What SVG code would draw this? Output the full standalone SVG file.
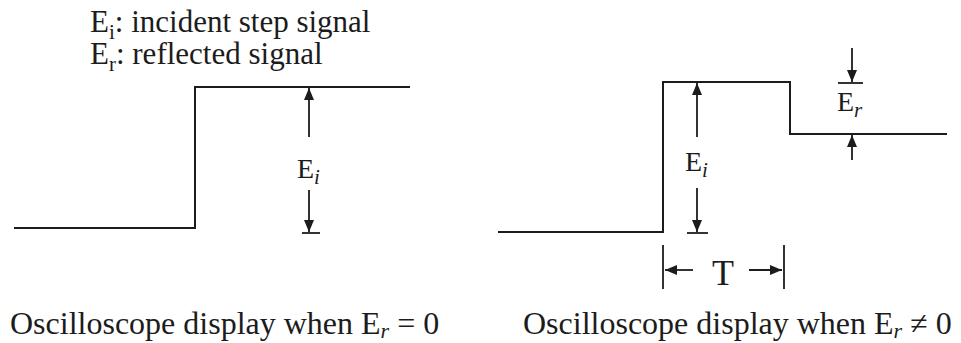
<svg xmlns="http://www.w3.org/2000/svg" width="961" height="343" viewBox="0 0 961 343">
  <style>
    .t { font-family: "Liberation Serif", "Times New Roman", serif; fill: #1c1c1c; }
    .wave { fill: none; stroke: #1c1c1c; stroke-width: 2; stroke-linejoin: miter; }
    .dim { fill: none; stroke: #1c1c1c; stroke-width: 1.8; }
    .arr { fill: none; stroke: #1c1c1c; stroke-width: 1.8; marker-end: url(#ah); }
  </style>
  <defs>
    <marker id="ah" markerUnits="userSpaceOnUse" markerWidth="12" markerHeight="10" viewBox="0 0 12 10" refX="12" refY="5" orient="auto">
      <path d="M0,0 L12,5 L0,10 Z" fill="#1c1c1c"/>
    </marker>
  </defs>
  <rect width="961" height="343" fill="#ffffff"/>

  <g id="legend">
    <text class="t" x="90" y="32" font-size="31">E<tspan font-size="21" dy="7">i</tspan><tspan dy="-7">: incident step signal</tspan></text>
    <text class="t" x="90" y="64" font-size="31">E<tspan font-size="21" dy="7">r</tspan><tspan dy="-7">: reflected signal</tspan></text>
  </g>

  <g id="step-left">
    <polyline class="wave" points="14,228 195,228 195,87 410,87"/>
  </g>

  <g id="step-right">
    <polyline class="wave" points="498,232 663,232 663,82 790,82 790,134 947,134"/>
  </g>

  <g id="labels">
    <text class="t" x="297" y="178" font-size="28">E<tspan font-style="italic" font-size="21" dy="6">i</tspan></text>
    <text class="t" x="685" y="171" font-size="28">E<tspan font-style="italic" font-size="21" dy="6">i</tspan></text>
    <text class="t" x="837" y="111" font-size="28">E<tspan font-style="italic" font-size="21" dy="6">r</tspan></text>
    <text class="t" x="723" y="285" font-size="36" text-anchor="middle">T</text>
  </g>

  <g id="connectors">
    <!-- left E_i -->
    <line class="arr" x1="309" y1="137" x2="309" y2="88"/>
    <line class="arr" x1="309" y1="190" x2="309" y2="232"/>
    <line class="dim" x1="302" y1="233" x2="320" y2="233"/>
    <!-- right E_i -->
    <line class="arr" x1="697" y1="137" x2="697" y2="83"/>
    <line class="arr" x1="697" y1="188" x2="697" y2="232"/>
    <line class="dim" x1="687" y1="233" x2="708" y2="233"/>
    <!-- E_r -->
    <line class="arr" x1="852" y1="48" x2="852" y2="82"/>
    <line class="dim" x1="838" y1="83" x2="863" y2="83"/>
    <line class="arr" x1="852" y1="160" x2="852" y2="135"/>
    <!-- T -->
    <line class="dim" x1="663" y1="245" x2="663" y2="289"/>
    <line class="dim" x1="784" y1="245" x2="784" y2="289"/>
    <line class="arr" x1="693" y1="270" x2="665" y2="270"/>
    <line class="arr" x1="749" y1="270" x2="782" y2="270"/>
  </g>

  <g id="captions">
    <text class="t" x="10" y="334" font-size="32">Oscilloscope display when E<tspan font-style="italic" font-size="22" dy="4">r</tspan><tspan dy="-4"> = 0</tspan></text>
    <text class="t" x="523" y="334" font-size="32">Oscilloscope display when E<tspan font-style="italic" font-size="22" dy="4">r</tspan><tspan dy="-4"> ≠ 0</tspan></text>
  </g>
</svg>
